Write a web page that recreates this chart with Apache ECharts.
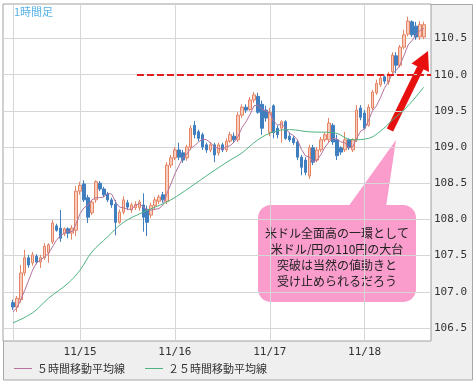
<!DOCTYPE html>
<html><head><meta charset="utf-8">
<script src="https://cdn.jsdelivr.net/npm/echarts@6/dist/echarts.min.js"></script>
<style>html,body{margin:0;padding:0;background:#fff}#c{width:475px;height:385px}</style>
</head><body><div id="c"></div>
<script>
// hourly USD/JPY candles, index 0 = first hour shown
const open = [
106.85,106.79,106.89,107.26,107.47,107.40,107.49,107.41,107.47,107.54,
107.69,107.91,107.88,107.80,107.87,107.81,107.85,108.39,108.49,108.30,
108.09,108.27,108.50,108.42,108.35,108.27,108.21,107.96,108.10,108.23,
108.13,108.16,108.16,108.20,108.14,108.06,108.19,108.25,108.34,108.25,
108.75,108.85,108.96,108.92,108.85,109.00,109.30,109.21,109.17,109.03,
108.96,109.03,108.92,109.03,108.96,109.08,109.15,109.10,109.44,109.55,
109.52,109.65,109.70,109.59,109.51,109.20,109.57,109.26,109.26,109.35,
109.15,109.12,109.07,108.86,108.82,108.60,108.99,108.82,108.96,109.10,
109.10,109.30,109.10,108.99,108.96,109.10,108.96,109.10,109.54,109.47,
109.30,109.54,109.75,109.86,109.97,109.90,110.04,110.26,110.13,110.38,
110.56,110.73,110.67,110.52,110.52];
const close = [
106.79,106.91,107.26,107.47,107.37,107.51,107.41,107.47,107.63,107.65,
107.95,107.85,107.74,107.87,107.81,107.88,108.39,108.47,108.27,108.03,
108.24,108.52,108.42,108.34,108.27,108.20,107.96,108.10,108.27,108.17,
108.20,108.21,108.24,108.03,107.96,108.19,108.27,108.31,108.27,108.75,
108.85,108.96,108.86,108.82,109.00,109.26,109.17,109.12,109.00,108.96,
109.03,108.89,109.03,108.96,109.08,109.17,109.10,109.44,109.55,109.51,
109.65,109.72,109.48,109.26,109.40,109.48,109.20,109.17,109.35,109.12,
109.10,109.06,108.86,108.72,108.65,108.99,108.79,108.96,109.10,109.17,
109.33,109.07,108.88,108.93,109.10,108.99,109.10,109.51,109.41,109.26,
109.55,109.76,109.88,109.95,109.91,110.01,110.27,110.13,110.38,110.55,
110.74,110.55,110.52,110.69,110.69];
const low = [
106.75,106.72,106.85,107.22,107.33,107.36,107.38,107.33,107.44,107.40,
107.66,107.83,107.69,107.77,107.74,107.72,107.77,108.34,108.24,107.95,
108.06,108.23,108.39,108.31,108.24,108.16,107.78,107.94,108.07,108.13,
108.09,108.13,108.12,107.83,107.77,108.02,108.14,108.21,108.23,108.21,
108.71,108.82,108.82,108.78,108.81,108.96,109.12,109.08,108.96,108.92,
108.93,108.79,108.88,108.93,108.93,109.06,109.06,109.07,109.40,109.47,
109.50,109.61,109.46,109.17,109.35,109.15,109.12,109.12,109.06,109.10,
109.07,109.03,108.82,108.61,108.61,108.56,108.75,108.79,108.93,109.07,
109.07,109.03,108.82,108.89,108.93,108.96,108.93,109.07,109.37,109.24,
109.28,109.51,109.72,109.83,109.87,109.86,109.99,110.02,110.10,110.35,
110.53,110.52,110.48,110.48,110.49];
const high = [
106.89,106.94,107.37,107.58,107.51,107.55,107.52,107.51,107.67,107.67,
107.99,107.94,108.13,107.89,107.89,107.92,108.46,108.52,108.54,108.34,
108.27,108.54,108.53,108.45,108.38,108.30,108.27,108.14,108.32,108.27,
108.23,108.25,108.27,108.36,108.19,108.23,108.31,108.34,108.38,108.79,
108.89,109.00,109.06,108.96,109.03,109.30,109.36,109.24,109.20,109.06,
109.07,109.06,109.06,109.06,109.12,109.21,109.20,109.48,109.59,109.59,
109.69,109.76,109.75,109.64,109.57,109.54,109.59,109.30,109.37,109.37,
109.20,109.15,109.10,108.89,108.86,109.03,109.03,109.00,109.14,109.20,
109.40,109.33,109.17,109.01,109.21,109.12,109.12,109.58,109.58,109.51,
109.59,109.79,109.93,109.99,109.99,110.04,110.31,110.31,110.41,110.62,
110.80,110.75,110.73,110.74,110.73];
// 5-hour moving average
const ma5 = [
106.72,106.78,106.89,107.02,107.16,107.30,107.40,107.44,107.48,107.53,
107.62,107.71,107.77,107.81,107.84,107.83,107.94,108.08,108.16,108.20,
108.27,108.30,108.30,108.31,108.36,108.35,108.24,108.17,108.16,108.14,
108.14,108.19,108.22,108.17,108.13,108.13,108.14,108.15,108.20,108.36,
108.49,108.63,108.74,108.85,108.90,108.98,109.02,109.07,109.11,109.10,
109.06,109.00,108.98,108.97,109.00,109.02,109.07,109.15,109.27,109.35,
109.45,109.57,109.58,109.52,109.50,109.47,109.36,109.30,109.32,109.26,
109.19,109.16,109.10,108.97,108.88,108.86,108.80,108.82,108.90,109.00,
109.07,109.12,109.11,109.07,109.06,108.99,109.00,109.12,109.22,109.25,
109.37,109.50,109.57,109.68,109.81,109.90,110.01,110.06,110.14,110.27,
110.41,110.47,110.55,110.61,110.64];
// 25-hour moving average (read at selected candles)
const ma25Idx = [0,5,9,14,17,20,24,28,33,36,40,45,50,55,58,62,66,70,75,81,86,90,93,96,100,104];
const ma25 = [106.57,106.71,106.91,107.12,107.30,107.55,107.76,107.96,108.10,108.17,108.27,108.45,108.64,108.82,108.92,109.10,109.21,109.24,109.21,109.20,109.10,109.12,109.22,109.37,109.57,109.83];

const xGridIdx = [0,17,41,65,89];
const xLabelIdx = [17,41,65,89];
const xLabels = ['11/15','11/16','11/17','11/18'];
const yTicks = [106.5,107.0,107.5,108.0,108.5,109.0,109.5,110.0,110.5];
const resistance = 110.0;
const resistanceFrom = 31.4;

const candles = open.map((o,i)=>[i,o,close[i],low[i],high[i]]);
const ma5Data = ma5.map((v,i)=>[i,v]);
const ma25Data = ma25Idx.map((x,k)=>[x,ma25[k]]);
const labelMap = {};
xLabelIdx.forEach((x,k)=>{labelMap[x]=xLabels[k];});

const chart = echarts.init(document.getElementById('c'), null, {renderer:'canvas'});
const mono = 'DejaVu Sans Mono';
chart.setOption({
  animation:false,
  backgroundColor:'#fff',
  title:{text:'1時間足', left:14, top:6, padding:0,
    textStyle:{fontSize:11, fontWeight:'normal', color:'#55b2e6', fontFamily:'Noto Sans CJK JP'}},
  legend:{data:[{name:'５時間移動平均線', icon:'rect'},{name:'２５時間移動平均線', icon:'rect'}],
    left:14, top:363, padding:0,
    itemWidth:18, itemHeight:1, itemGap:20,
    textStyle:{fontSize:11, color:'#333', fontFamily:'Noto Sans CJK JP'}},
  grid:{left:3, right:44, top:4, bottom:44, show:true, backgroundColor:'#fff', borderColor:'#a0a0a0', borderWidth:1},
  xAxis:{type:'value', min:-2.5, max:105.8,
    axisLine:{show:false},
    axisTick:{show:false, customValues:xGridIdx},
    splitLine:{show:true, lineStyle:{color:'#d6d6d6', width:1}},
    axisLabel:{customValues:xLabelIdx, margin:6, color:'#333', fontSize:11, fontFamily:mono,
      formatter:v=>labelMap[Math.round(v)]||''}},
  yAxis:{type:'value', position:'right', min:106.32, max:110.976, scale:true,
    axisLine:{show:false},
    axisTick:{show:false, customValues:yTicks},
    splitLine:{show:true, lineStyle:{color:'#d6d6d6', width:1}},
    axisLabel:{customValues:yTicks, margin:3, color:'#333', fontSize:11, fontFamily:mono,
      formatter:v=>Number(v).toFixed(1)}},
  series:[
    {type:'candlestick', name:'USDJPY', data:candles, encode:{x:0, y:[1,2,3,4]},
      barWidth:3,
      itemStyle:{color:'#f9cdbd', color0:'#3f7fbf', borderColor:'#e48465', borderColor0:'#3f7fbf', borderWidth:1},
      markLine:{silent:true, symbol:['none','none'], label:{show:false},
        lineStyle:{color:'#e01c1c', width:2, type:[7,3]},
        data:[[{coord:[resistanceFrom,resistance]},{coord:[105.8,resistance]}]]}},
    {type:'line', name:'５時間移動平均線', data:ma5Data, showSymbol:false, symbol:'none',
      lineStyle:{color:'#b5739d', width:1}, itemStyle:{color:'#b5739d'}, z:3},
    {type:'line', name:'２５時間移動平均線', data:ma25Data, showSymbol:false, symbol:'none', smooth:0.4,
      lineStyle:{color:'#4fb37f', width:1}, itemStyle:{color:'#4fb37f'}, z:3}
  ],
  graphic:[
    {type:'rect', z:-10, shape:{x:3.5, y:4.5, width:469, height:375.5}, style:{fill:'#efefef', stroke:'#a8a8a8', lineWidth:1}},
    {type:'group', z:100, children:[
      {type:'polygon', shape:{points:[[348,207],[396,140],[386,207]]}, style:{fill:'#fa9ccc'}},
      {type:'rect', shape:{x:258, y:205, width:158, height:97, r:13}, style:{fill:'#fa9ccc'}},
      {type:'text', style:{text:'米ドル全面高の一環として\n米ドル/円の110円の大台\n突破は当然の値動きと\n受け止められるだろう',
        x:337, y:257, align:'center', verticalAlign:'middle', lineHeight:16,
        font:'12px "Noto Sans CJK JP"', fill:'#222'}}
    ]},
    {type:'group', z:100, children:[
      {type:'line', shape:{x1:390, y1:130, x2:420.5, y2:67.5}, style:{stroke:'#e8100f', lineWidth:7}},
      {type:'polygon', shape:{points:[[428,51],[411.5,63.5],[429,72]]}, style:{fill:'#e8100f'}}
    ]}
  ]
});
</script></body></html>
